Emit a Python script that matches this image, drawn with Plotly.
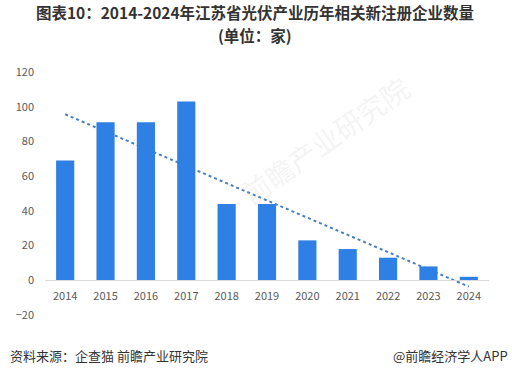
import numpy as np
import plotly.graph_objects as go

years = ["2014", "2015", "2016", "2017", "2018", "2019", "2020", "2021", "2022", "2023", "2024"]
counts = [69, 91, 91, 103, 44, 44, 23, 18, 13, 8, 2]
y_ticks = [-20, 0, 20, 40, 60, 80, 100, 120]

title_line1 = "<b>图表10：2014-2024年江苏省光伏产业历年相关新注册企业数量</b>"
title_line2 = "<b>(单位：家)</b>"
source_text = "资料来源：企查猫 前瞻产业研究院"
brand_text = "@前瞻经济学人APP"
watermark_text = "前瞻产业研究院"

# linear trendline (Excel-style) computed from the data
idx = np.arange(len(years))
slope, intercept = np.polyfit(idx, counts, 1)
trend = slope * idx + intercept

font_family = "Noto Sans CJK SC, Microsoft YaHei, sans-serif"

W, H = 512, 375
L, R, T, B = 45, 23, 72, 60
pw, ph = W - L - R, H - T - B

fig = go.Figure()
# trend line on the base axes (drawn underneath the bars)
fig.add_trace(go.Scatter(
    x=years, y=trend, mode="lines", xaxis="x", yaxis="y",
    line=dict(color="#4a7fc0", width=2, dash="dot"),
    showlegend=False, hoverinfo="skip",
))
# bars on overlaid axes (drawn on top)
fig.add_trace(go.Bar(
    x=years, y=counts, xaxis="x2", yaxis="y2",
    marker=dict(color="#2f80e4", line=dict(width=0)),
    width=0.45, showlegend=False,
))

fig.update_layout(
    width=W, height=H,
    margin=dict(l=L, r=R, t=T, b=B),
    paper_bgcolor="white", plot_bgcolor="white",
    font=dict(family=font_family, color="#595959", size=11),
    title=dict(text=title_line1, x=255 / W, xanchor="center",
               y=1 - 13.5 / H, yanchor="middle", yref="container", pad=dict(t=0, b=0),
               font=dict(family=font_family, size=15.5, color="#333333")),
    xaxis=dict(
        type="category", range=[-0.5, 10.5],
        anchor="free", position=1 / 7,
        showline=True, linecolor="#d9d9d9", linewidth=1,
        ticks="", showgrid=False, zeroline=False, ticklabelstandoff=6,
        tickfont=dict(size=11, color="#595959"),
    ),
    yaxis=dict(
        range=[-20, 120], tickvals=y_ticks,
        showgrid=False, zeroline=False, showline=False,
        ticks="", ticklabelstandoff=10,
        tickfont=dict(size=11, color="#595959"),
    ),
    xaxis2=dict(type="category", range=[-0.5, 10.5], overlaying="x",
                visible=False, anchor="y2"),
    yaxis2=dict(range=[-20, 120], overlaying="y", visible=False, anchor="x2"),
    bargap=0.55,
)

# second title line
fig.add_annotation(
    xref="paper", yref="paper", x=(255 - L) / pw, y=1 + (T - 35) / ph,
    xanchor="center", yanchor="middle", showarrow=False,
    text=title_line2,
    font=dict(family=font_family, size=15.5, color="#333333"),
)

# faint watermark
fig.add_annotation(
    xref="paper", yref="paper",
    x=(325 - L) / pw, y=(H - B - 140) / ph,
    xanchor="center", yanchor="middle",
    text=watermark_text, showarrow=False, textangle=-35,
    font=dict(family=font_family, size=28, color="rgba(190,190,190,0.18)"),
)

fig.add_annotation(
    xref="paper", yref="paper", x=-(L - 8) / pw, y=-(355 - (H - B)) / ph,
    xanchor="left", yanchor="middle",
    text=source_text, showarrow=False,
    font=dict(family=font_family, size=13, color="#333333"),
)
fig.add_annotation(
    xref="paper", yref="paper", x=1 + (510 - (W - R)) / pw, y=-(355 - (H - B)) / ph,
    xanchor="right", yanchor="middle",
    text=brand_text, showarrow=False,
    font=dict(family=font_family, size=13, color="#333333"),
)

fig.write_html("out.html", config={"displayModeBar": False},
               post_script="document.body.style.margin='0';")
